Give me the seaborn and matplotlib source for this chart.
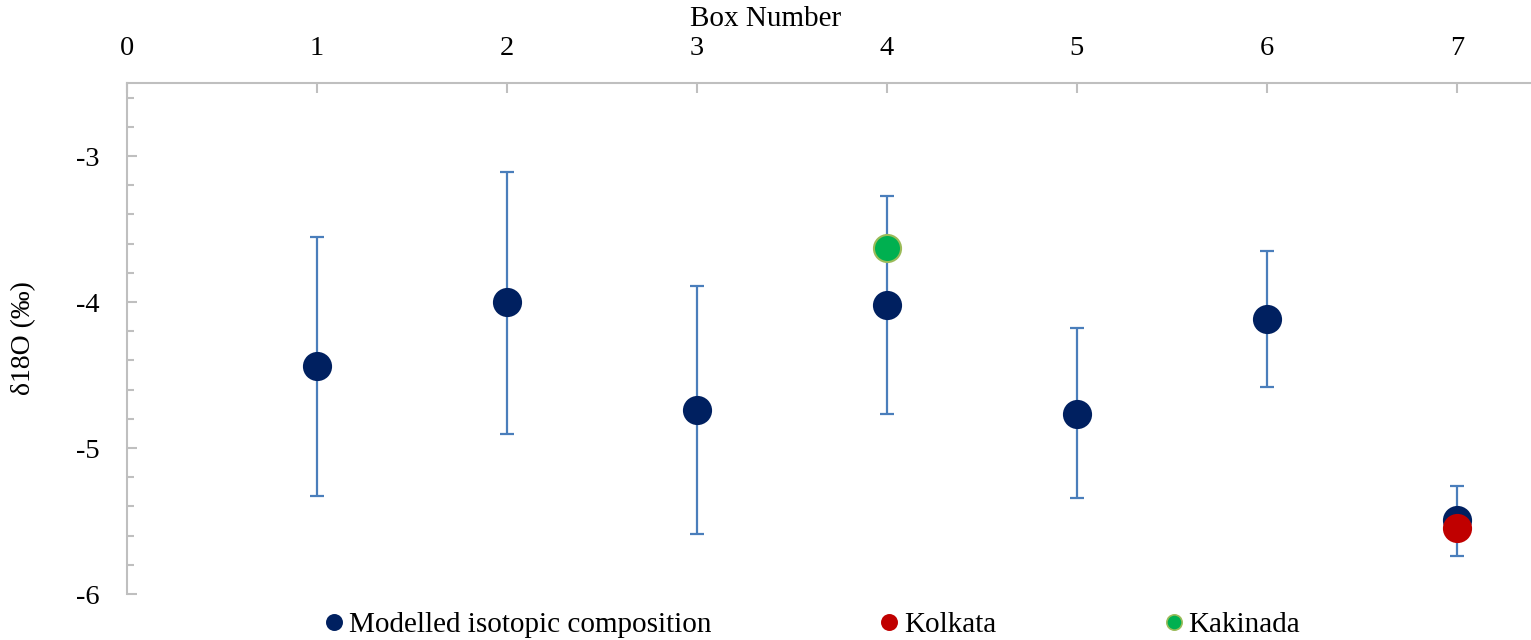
import numpy as np
import pandas as pd
import matplotlib
matplotlib.use("Agg")
import matplotlib.pyplot as plt
import seaborn as sns
from matplotlib.ticker import MultipleLocator
from matplotlib.lines import Line2D

# Data
boxes = [1, 2, 3, 4, 5, 6, 7]
modelled = [-4.44, -4.00, -4.74, -4.02, -4.765, -4.115, -5.495]
err_upper = [-3.555, -3.11, -3.89, -3.275, -4.175, -3.65, -5.26]
err_lower = [-5.33, -4.905, -5.59, -4.765, -5.345, -4.58, -5.74]
kolkata_box = [7]
kolkata_val = [-5.545]
kakinada_box = [4]
kakinada_val = [-3.63]

series_names = ["Modelled isotopic composition", "Kolkata", "Kakinada"]
colors = {"Modelled isotopic composition": "#002060", "Kolkata": "#C00000", "Kakinada": "#00B050"}
edges = {"Modelled isotopic composition": "#002060", "Kolkata": "#C00000", "Kakinada": "#9BBB59"}

df = pd.DataFrame({
    "box": boxes + kolkata_box + kakinada_box,
    "val": modelled + kolkata_val + kakinada_val,
    "series": [series_names[0]] * len(boxes) + [series_names[1]] * len(kolkata_box) + [series_names[2]] * len(kakinada_box),
})

sns.set_theme(style="white")
plt.rcParams["font.family"] = ["Liberation Serif", "DejaVu Serif"]
plt.rcParams["text.color"] = "black"
plt.rcParams["axes.labelcolor"] = "black"
plt.rcParams["xtick.labelcolor"] = "black"
plt.rcParams["ytick.labelcolor"] = "black"

fig = plt.figure(figsize=(15.31, 6.4), dpi=100)
ax = fig.add_axes([127 / 1531, 1 - 594 / 640, 1 - 127 / 1531, (594 - 83) / 640])

yerr = np.array([np.array(modelled) - np.array(err_lower), np.array(err_upper) - np.array(modelled)])
ax.errorbar(boxes, modelled, yerr=yerr, fmt="none", ecolor="#4A7EBB", elinewidth=1.6,
            capsize=5, capthick=1.6, zorder=1)

for s in series_names:
    sub = df[df["series"] == s]
    sns.scatterplot(data=sub, x="box", y="val", ax=ax, s=380, color=colors[s],
                    edgecolor=edges[s], linewidth=1.5, zorder=3, legend=False)

ax.set_xlim(0, 7.39)
ax.set_ylim(-6, -2.5)
ax.xaxis.tick_top()
ax.xaxis.set_label_position("top")
ax.set_xticks(range(0, 8))
ax.set_yticks([-6, -5, -4, -3])
ax.set_yticklabels(["-6", "-5", "-4", "-3"])
ax.yaxis.set_minor_locator(MultipleLocator(0.2))
ax.set_xlabel("Box Number", fontsize=21)
ax.set_ylabel("δ18O (‰)", fontsize=20)
ax.xaxis.set_label_coords((766 - 127) / (1531 - 127), 1 + (83 - 19) / 511, transform=ax.transAxes)
ax.xaxis.label.set_va("center")
ax.yaxis.set_label_coords(-0.065, 0.5)

for sp in ["right", "bottom"]:
    ax.spines[sp].set_visible(False)
for sp in ["top", "left"]:
    ax.spines[sp].set_color("#BFBFBF")
    ax.spines[sp].set_linewidth(1.5)

ax.tick_params(axis="x", which="major", direction="in", length=7, width=1.5, color="#BFBFBF",
               labelsize=20.5, pad=16, top=True, bottom=False, labeltop=True, labelbottom=False)
ax.tick_params(axis="y", which="major", direction="in", length=7, width=1.5, color="#BFBFBF",
               labelsize=20.5, pad=20, left=True)
ax.tick_params(axis="y", which="minor", direction="in", length=5, width=1.5, color="#BFBFBF", left=True)
ax.grid(False)

handles = [Line2D([0], [0], marker="o", linestyle="none", markersize=11,
                  markerfacecolor=colors[s], markeredgecolor=edges[s], markeredgewidth=1.2)
           for s in series_names]
fig.legend(handles, series_names, loc="center", bbox_to_anchor=(0.531, 0.023), ncol=3,
           frameon=False, fontsize=21, handlelength=0.6, handletextpad=0.2, columnspacing=5.8,
           borderaxespad=0)

fig.savefig("out.png", dpi=100)
